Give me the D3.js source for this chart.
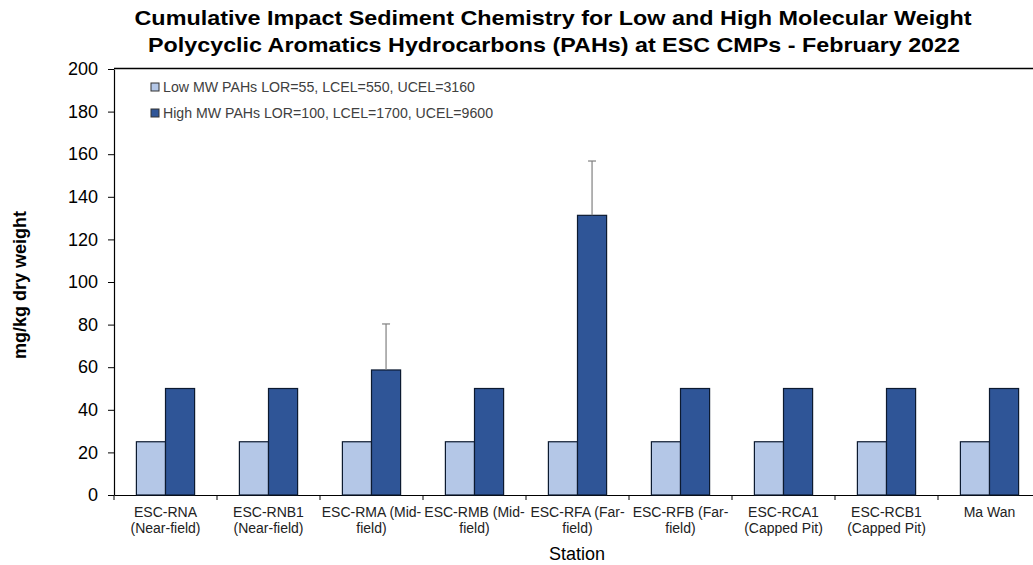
<!DOCTYPE html>
<html>
<head>
<meta charset="utf-8">
<script src="https://cdn.jsdelivr.net/npm/d3@7"></script>
<style>
  html, body { margin: 0; padding: 0; background: #fff; }
  svg { display: block; font-family: "Liberation Sans", Arial, sans-serif; }
</style>
</head>
<body>
<svg id="chart" width="1033" height="565"></svg>
<script>
// ---- Data ----
const categories = ["ESC-RNA", "ESC-RNB1", "ESC-RMA", "ESC-RMB", "ESC-RFA", "ESC-RFB", "ESC-RCA1", "ESC-RCB1", "Ma Wan"];
const categoryLabels = [
  ["ESC-RNA", "(Near-field)"],
  ["ESC-RNB1", "(Near-field)"],
  ["ESC-RMA (Mid-", "field)"],
  ["ESC-RMB (Mid-", "field)"],
  ["ESC-RFA (Far-", "field)"],
  ["ESC-RFB (Far-", "field)"],
  ["ESC-RCA1", "(Capped Pit)"],
  ["ESC-RCB1", "(Capped Pit)"],
  ["Ma Wan"]
];
const seriesNames = ["Low MW PAHs LOR=55, LCEL=550, UCEL=3160", "High MW PAHs LOR=100, LCEL=1700, UCEL=9600"];
const lowValues  = [25, 25, 25, 25, 25, 25, 25, 25, 25];
const highValues = [50, 50, 58.7, 50, 131.3, 50, 50, 50, 50];
const lowErrors  = [0, 0, 0, 0, 0, 0, 0, 0, 0];
const highErrors = [0, 0, 21.6, 0, 25.5, 0, 0, 0, 0];
const yTicks = [0, 20, 40, 60, 80, 100, 120, 140, 160, 180, 200];
const titleLines = ["Cumulative  Impact  Sediment  Chemistry  for  Low and  High  Molecular  Weight",
                    "Polycyclic  Aromatics  Hydrocarbons  (PAHs)  at ESC  CMPs  -  February  2022"];
const xTitle = "Station";
const yTitle = "mg/kg dry weight";
const colors = ["#B4C7E7", "#2F5597"];

// ---- Layout ----
const svg = d3.select("#chart");
const plot = { left: 114, right: 1041, top: 69, bottom: 495 };

const x0 = d3.scaleBand().domain(categories).range([plot.left, plot.right]).paddingInner(0).paddingOuter(0);
const x1 = d3.scaleBand().domain([0, 1]).range([22.4, x0.bandwidth() - 22.4]).padding(0);
const y = d3.scaleLinear().domain([0, 200]).range([plot.bottom, plot.top]);

// plot border (top)
svg.append("line").attr("x1", plot.left).attr("x2", plot.right).attr("y1", plot.top - 0.5).attr("y2", plot.top - 0.5)
  .attr("stroke", "#000").attr("stroke-width", 1.3);

// title
svg.append("g").selectAll("text").data(titleLines).join("text")
  .attr("x", (d, i) => i === 0 ? 553 : 554)
  .attr("y", (d, i) => i === 0 ? 25 : 52)
  .attr("text-anchor", "middle")
  .attr("font-weight", "bold")
  .attr("font-size", 21)
  .attr("textLength", (d, i) => i === 0 ? 837 : 812)
  .attr("lengthAdjust", "spacingAndGlyphs")
  .attr("fill", "#000")
  .text(d => d);

// y axis
const yAxis = d3.axisLeft(y).tickValues(yTicks).tickSize(6).tickPadding(10).tickSizeOuter(0);
const gy = svg.append("g").attr("transform", `translate(${plot.left},0)`).call(yAxis);
gy.select(".domain").attr("stroke", "#000").attr("stroke-width", 1.2);
gy.selectAll(".tick line").attr("stroke", "#000");
gy.selectAll(".tick text").attr("font-size", 18).attr("fill", "#000").attr("font-family", "Liberation Sans, Arial, sans-serif");

// x axis
const xAxis = d3.axisBottom(x0).tickValues([]).tickSizeOuter(0);
const gx = svg.append("g").attr("transform", `translate(0,${plot.bottom})`).call(xAxis);
gx.select(".domain").attr("stroke", "#000").attr("stroke-width", 1.2);
const boundaries = categories.map(c => x0(c)).concat([plot.right]);
gx.selectAll(".bt").data(boundaries).join("line").attr("class", "bt")
  .attr("x1", d => d).attr("x2", d => d).attr("y1", 0).attr("y2", 5)
  .attr("stroke", "#000");

// category labels
const catG = svg.append("g").selectAll("text").data(categories).join("text")
  .attr("x", d => x0(d) + x0.bandwidth() / 2)
  .attr("text-anchor", "middle")
  .attr("font-size", 14)
  .attr("fill", "#222");
catG.each(function(d, i) {
  d3.select(this).selectAll("tspan").data(categoryLabels[i]).join("tspan")
    .attr("x", x0(d) + x0.bandwidth() / 2)
    .attr("y", (t, j) => 517 + j * 16)
    .text(t => t);
});

// axis titles
svg.append("text").attr("x", 577).attr("y", 560).attr("text-anchor", "middle")
  .attr("font-size", 18).attr("fill", "#000").text(xTitle);
svg.append("text").attr("transform", "translate(26,285) rotate(-90)").attr("text-anchor", "middle")
  .attr("font-size", 18).attr("font-weight", "bold").attr("fill", "#000").text(yTitle);

// bars
const series = [lowValues, highValues];
const errors = [lowErrors, highErrors];
const groups = svg.append("g").selectAll("g").data(categories).join("g")
  .attr("transform", d => `translate(${x0(d)},0)`);
groups.selectAll("rect").data((d, i) => series.map((s, k) => ({ k, v: s[i], e: errors[k][i] }))).join("rect")
  .attr("x", d => x1(d.k))
  .attr("width", x1.bandwidth())
  .attr("y", d => y(d.v))
  .attr("height", d => y(0) - y(d.v))
  .attr("fill", d => colors[d.k])
  .attr("stroke", "#0c1a30")
  .attr("stroke-width", 1.2);

// error bars
groups.selectAll("g.err").data((d, i) => series.map((s, k) => ({ k, v: s[i], e: errors[k][i] })).filter(d => d.e > 0))
  .join("g").attr("class", "err")
  .each(function(d) {
    const cx = x1(d.k) + x1.bandwidth() / 2;
    const g = d3.select(this);
    g.append("line").attr("x1", cx).attr("x2", cx).attr("y1", y(d.v)).attr("y2", y(d.v + d.e))
      .attr("stroke", "#808080").attr("stroke-width", 1.2);
    g.append("line").attr("x1", cx - 4).attr("x2", cx + 4).attr("y1", y(d.v + d.e)).attr("y2", y(d.v + d.e))
      .attr("stroke", "#808080").attr("stroke-width", 1.2);
  });

// legend
const legend = svg.append("g").selectAll("g").data(seriesNames).join("g")
  .attr("transform", (d, i) => `translate(155,${87 + i * 26})`);
legend.append("rect").attr("x", -4).attr("y", -4).attr("width", 8).attr("height", 8)
  .attr("fill", (d, i) => colors[i]).attr("stroke", "#333").attr("stroke-width", 1);
legend.append("text").attr("x", 8).attr("y", 5).attr("font-size", 14).attr("fill", "#404040")
  .attr("textLength", (d, i) => i === 0 ? 312 : 330)
  .attr("lengthAdjust", "spacingAndGlyphs")
  .text(d => d);
</script>
</body>
</html>
